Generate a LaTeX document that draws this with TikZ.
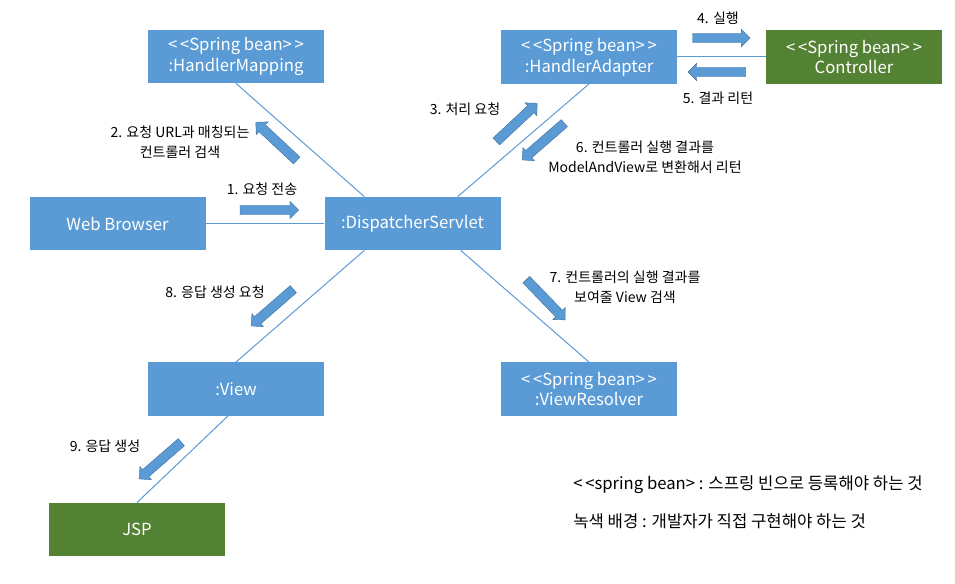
\documentclass[tikz,border=0pt]{standalone}
\usepackage{fontspec}
\setmainfont{Noto Sans CJK KR}
\usepackage{tikz}
\usepackage{xcolor}
\usetikzlibrary{positioning, arrows, shapes.arrows, calc}

\begin{document}
\begin{tikzpicture}[x=0.75pt,y=0.75pt,yscale=-1,xscale=1,
  bluebox/.style={fill={rgb, 255:red, 91; green, 155; blue, 213 }, text=white, minimum width=132pt, minimum height=40pt, inner sep=0pt, align=center, font=\fontsize{12.5}{15.5}\selectfont},
  greenbox/.style={bluebox, fill={rgb, 255:red, 84; green, 130; blue, 53 }},
  link/.style={draw={rgb, 255:red, 91; green, 155; blue, 213 }, line width=0.75pt},
  fatarrow/.style={single arrow, fill={rgb, 255:red, 91; green, 155; blue, 213 }, draw={rgb, 255:red, 65; green, 113; blue, 156 }, line width=0.3pt, single arrow head extend=3pt, inner xsep=0pt, inner ysep=3.4pt, minimum height=42pt},
  lbl/.style={font=\fontsize{10.5}{15}\selectfont, align=center, inner sep=0pt}]

\useasboundingbox (0,0) rectangle (955,584);

%Shape: Rectangle
\node[bluebox] (hm) at (236,56.5) {<\,<Spring bean>\,>\\:HandlerMapping};
%Shape: Rectangle
\node[bluebox] (ha) at (589,57) {<\,<Spring bean>\,>\\:HandlerAdapter};
%Shape: Rectangle
\node[greenbox] (ctrl) at (854,57) {<\,<Spring bean>\,>\\Controller};
%Shape: Rectangle
\node[bluebox] (wb) at (117.5,223.5) {Web Browser};
%Shape: Rectangle
\node[bluebox] (ds) at (412.5,223.5) {:DispatcherServlet};
%Shape: Rectangle
\node[bluebox] (view) at (236,389) {:View};
%Shape: Rectangle
\node[bluebox] (vr) at (589,389) {<\,<Spring bean>\,>\\:ViewResolver};
%Shape: Rectangle
\node[greenbox] (jsp) at (137,529.5) {JSP};

%Straight Lines
\coordinate (dsnw) at ($(ds.north west)+(40,0)$);
\coordinate (dsne) at ($(ds.north east)+(-43,0)$);
\coordinate (dssw) at ($(ds.south west)+(40,0)$);
\coordinate (dsse) at ($(ds.south east)+(-40,0)$);
\draw[link] (hm.south) -- (dsnw);
\draw[link] (ha.south) -- (dsne);
\draw[link] (ha.east) -- (ctrl.west);
\draw[link] (wb.east) -- (ds.west);
\draw[link] (dssw) -- (view.north);
\draw[link] (dsse) -- (vr.north);
\draw[link] ($(view.south)+(-8,0)$) -- (jsp.north);

%Block Arrows
\node[fatarrow, minimum height=44pt] (a1) at (267,210) {};
\node[fatarrow, rotate=137] (a2) at (278,143) {};
\node[fatarrow, rotate=43] (a3) at (515,124) {};
\node[fatarrow, minimum height=43pt] (a4) at (719,38) {};
\node[fatarrow, minimum height=43pt, rotate=180] (a5) at (719,72) {};
\node[fatarrow, rotate=221] (a6) at (545,140) {};
\node[fatarrow, rotate=-46] (a7) at (544,298) {};
\node[fatarrow, rotate=221] (a8) at (274,306) {};
\node[fatarrow, rotate=221] (a9) at (162,459) {};

%Text
\node[lbl] (t1) at (262,189) {1. 요청 전송};
\node[lbl] (t2) at (180,142) {2. 요청 URL과 매칭되는\\컨트롤러 검색};
\node[lbl] (t3) at (465,109) {3. 처리 요청};
\node[lbl] (t4) at (718,18) {4. 실행};
\node[lbl] (t5) at (718,98) {5. 결과 리턴};
\node[lbl] (t6) at (645,157) {6. 컨트롤러 실행 결과를\\ModelAndView로 변환해서 리턴};
\node[lbl] (t7) at (625,287) {7. 컨트롤러의 실행 결과를\\보여줄 View 검색};
\node[lbl] (t8) at (215,292) {8. 응답 생성 요청};
\node[lbl] (t9) at (105,446) {9. 응답 생성};
\node[lbl, anchor=west, font=\fontsize{12.5}{15}\selectfont] (leg1) at (573,485) {<\,<spring bean> : 스프링 빈으로 등록해야 하는 것};
\node[lbl, anchor=west, font=\fontsize{12.5}{15}\selectfont] (leg2) at (573,521) {녹색 배경 : 개발자가 직접 구현해야 하는 것};

\end{tikzpicture}
\end{document}
